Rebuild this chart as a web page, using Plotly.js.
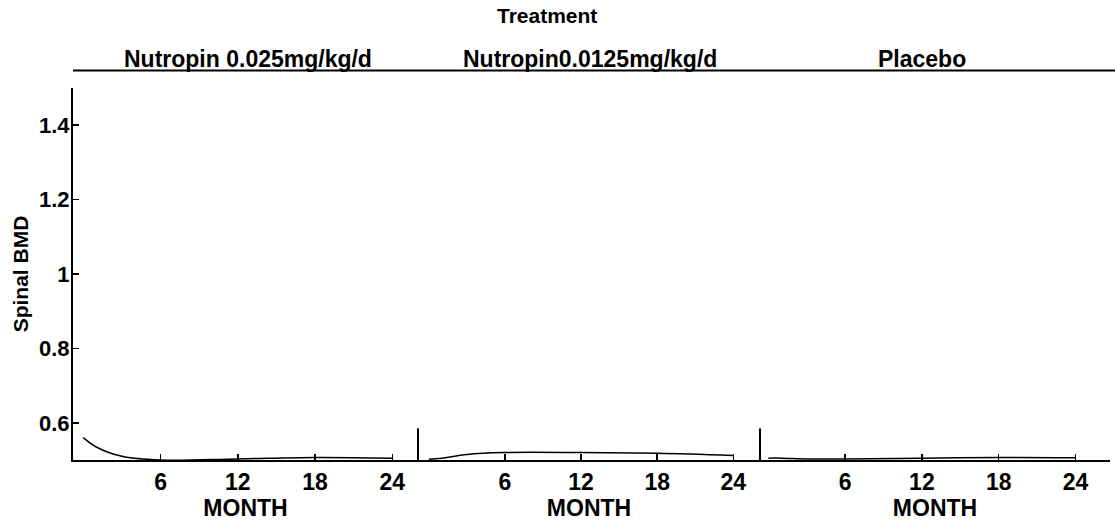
<!DOCTYPE html>
<html>
<head>
<meta charset="utf-8">
<script src="https://cdn.plot.ly/plotly-3.0.1.min.js"></script>
<style>html,body{margin:0;padding:0;background:#fff;}#chart{width:1115px;height:525px;}</style>
</head>
<body>
<div id="chart"></div>
<script>
// ---- data ----
const panels = ["Nutropin 0.025mg/kg/d", "Nutropin0.0125mg/kg/d", "Placebo"];
const months = [0, 1, 3, 6, 12, 18, 24];
const bmdHigh = [0.56, 0.535, 0.51, 0.50, 0.503, 0.507, 0.505];
const bmdLow = [0.502, 0.505, 0.515, 0.52, 0.52, 0.518, 0.512];
const bmdPlacebo = [0.505, 0.505, 0.503, 0.503, 0.505, 0.507, 0.506];
const xTicks = [6, 12, 18, 24];
const yTicks = [0.6, 0.8, 1, 1.2, 1.4];
const yTickText = ["0.6", "0.8", "1", "1.2", "1.4"];

const FONT = "Liberation Sans, Arial, Helvetica, sans-serif";
const series = [bmdHigh, bmdLow, bmdPlacebo];
const axisNames = ["", "2", "3"];

const traces = series.map((vals, i) => ({
  type: "scatter", mode: "lines",
  x: months, y: vals,
  xaxis: "x" + axisNames[i], yaxis: "y",
  line: {color: "#000", width: 1.5, shape: "spline"},
  showlegend: false, hoverinfo: "skip"
}));

const domains = [[0, 0.3327], [0.3327, 0.6625], [0.6625, 1]];
const ranges = [[-0.8, 26.0], [-0.85, 26.1], [-0.65, 26.7]];
const headerX = [0.169, 0.4985, 0.819];

const layout = {
  width: 1115, height: 525,
  margin: {l: 73, r: 5, t: 88, b: 65},
  paper_bgcolor: "#fff", plot_bgcolor: "#fff",
  font: {family: FONT, color: "#000", size: 22, weight: 700},
  showlegend: false,
  yaxis: {
    range: [0.5, 1.5], tickvals: yTicks, ticktext: yTickText,
    showgrid: false, zeroline: false,
    showline: true, linecolor: "#000", linewidth: 2,
    ticks: "inside", ticklen: 6, tickwidth: 1.5, tickcolor: "#000",
    tickfont: {family: FONT, size: 22, weight: 700},
    ticklabelstandoff: -3,
    title: {text: "Spinal BMD", font: {family: FONT, size: 21, weight: 700}, standoff: 5}
  },
  annotations: [],
  shapes: []
};

panels.forEach((name, i) => {
  const key = "xaxis" + axisNames[i];
  layout[key] = {
    domain: domains[i], range: ranges[i], anchor: "y",
    tickvals: xTicks, ticktext: xTicks.map(String),
    showgrid: false, zeroline: false,
    showline: true, linecolor: "#000", linewidth: 2,
    ticks: "inside", ticklen: 6, tickwidth: 1.5, tickcolor: "#000",
    tickfont: {family: FONT, size: 23, weight: 700},
    title: {text: "MONTH", font: {family: FONT, size: 23, weight: 700}, standoff: 6}
  };
  layout.annotations.push({
    text: name, xref: "paper", yref: "paper",
    x: headerX[i], y: 1.078, xanchor: "center", yanchor: "middle", showarrow: false,
    font: {family: FONT, size: 23, weight: 700}
  });
});

layout.annotations.push({
  text: "Treatment", xref: "paper", yref: "paper", x: 0.457, y: 1.196,
  xanchor: "center", yanchor: "middle", showarrow: false,
  font: {family: FONT, size: 21, weight: 700}
});

// strip underline across the top
layout.shapes.push({type: "line", xref: "paper", yref: "paper",
  x0: 0.0, x1: 1.01, y0: 1.047, y1: 1.047, line: {color: "#000", width: 2}});
// short panel separators at the bottom
[domains[1][0], domains[2][0]].forEach(xp => {
  layout.shapes.push({type: "line", xref: "paper", yref: "paper",
    x0: xp, x1: xp, y0: 0, y1: 0.085, line: {color: "#000", width: 2}});
});

Plotly.newPlot("chart", traces, layout, {staticPlot: true, displayModeBar: false});
</script>
</body>
</html>
